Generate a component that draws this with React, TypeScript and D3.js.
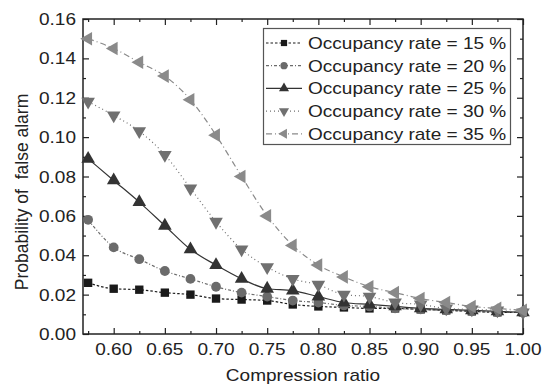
import React, { useEffect, useRef } from 'react';
import * as d3 from 'd3';

const ratios = [0.575, 0.6, 0.625, 0.65, 0.675, 0.7, 0.725, 0.75, 0.775, 0.8, 0.825, 0.85, 0.875, 0.9, 0.925, 0.95, 0.975, 1.0];
const occ15 = [0.026, 0.023, 0.0225, 0.021, 0.020, 0.018, 0.0175, 0.017, 0.015, 0.014, 0.0135, 0.013, 0.013, 0.0125, 0.012, 0.0115, 0.011, 0.011];
const occ20 = [0.058, 0.044, 0.038, 0.032, 0.028, 0.024, 0.021, 0.019, 0.017, 0.016, 0.0145, 0.014, 0.013, 0.0125, 0.012, 0.0115, 0.011, 0.011];
const occ25 = [0.089, 0.078, 0.067, 0.055, 0.043, 0.035, 0.028, 0.023, 0.022, 0.019, 0.016, 0.015, 0.014, 0.013, 0.0125, 0.012, 0.0115, 0.011];
const occ30 = [0.118, 0.111, 0.103, 0.091, 0.074, 0.057, 0.043, 0.034, 0.028, 0.025, 0.020, 0.019, 0.016, 0.015, 0.013, 0.0125, 0.012, 0.011];
const occ35 = [0.150, 0.145, 0.138, 0.131, 0.119, 0.101, 0.080, 0.060, 0.045, 0.035, 0.029, 0.024, 0.021, 0.018, 0.016, 0.014, 0.013, 0.012];
const labels = ['Occupancy rate = 15 %', 'Occupancy rate = 20 %', 'Occupancy rate = 25 %', 'Occupancy rate = 30 %', 'Occupancy rate = 35 %'];
const xTicks = [0.6, 0.65, 0.7, 0.75, 0.8, 0.85, 0.9, 0.95, 1.0];
const yTicks = [0, 0.02, 0.04, 0.06, 0.08, 0.1, 0.12, 0.14, 0.16];

const styles = [
  { color: '#1a1a1a', line: '#1a1a1a', dash: '2.5,2', symbol: d3.symbolSquare, size: 70, rot: 0 },
  { color: '#6b6b6b', line: '#6b6b6b', dash: '3,2,1,2', symbol: d3.symbolCircle, size: 75, rot: 0 },
  { color: '#333333', line: '#333333', dash: null, symbol: d3.symbolTriangle, size: 80, rot: 0 },
  { color: '#707070', line: '#707070', dash: '1,3', symbol: d3.symbolTriangle, size: 80, rot: 180 },
  { color: '#8a8a8a', line: '#8a8a8a', dash: '6,3,1,3', symbol: d3.symbolTriangle, size: 80, rot: -90 },
];

function App() {
  const ref = useRef<SVGSVGElement>(null);

  useEffect(() => {
    const svg = d3.select(ref.current);
    svg.selectAll('*').remove();
    const font = 'Liberation Sans, Arial, sans-serif';
    const stretch = 1.12; // text in the figure is a bit wider than Arial
    const m = { left: 83, right: 523, top: 19, bottom: 334 };

    const x = d3.scaleLinear().domain([0.57, 1.0]).range([m.left, m.right]);
    const y = d3.scaleLinear().domain([0, 0.16]).range([m.bottom, m.top]);

    const xMinor = d3.range(0.575, 1.0, 0.05);
    const yMinor = d3.range(0.01, 0.16, 0.02);

    const axes = svg.append('g');
    const drawAxis = (axis: any, tx: string) => {
      const g = axes.append('g').attr('transform', tx).call(axis);
      g.select('.domain').remove();
      g.selectAll('line').attr('stroke', '#222').attr('stroke-width', 1.2);
      g.selectAll('text').remove();
      return g;
    };
    drawAxis(d3.axisBottom(x).tickValues(xTicks).tickSize(-6), `translate(0,${m.bottom})`);
    drawAxis(d3.axisBottom(x).tickValues(xMinor).tickSize(-3), `translate(0,${m.bottom})`);
    drawAxis(d3.axisTop(x).tickValues(xTicks).tickSize(-6), `translate(0,${m.top})`);
    drawAxis(d3.axisTop(x).tickValues(xMinor).tickSize(-3), `translate(0,${m.top})`);
    drawAxis(d3.axisLeft(y).tickValues(yTicks).tickSize(-6), `translate(${m.left},0)`);
    drawAxis(d3.axisLeft(y).tickValues(yMinor).tickSize(-3), `translate(${m.left},0)`);
    drawAxis(d3.axisRight(y).tickValues(yTicks).tickSize(-6), `translate(${m.right},0)`);
    drawAxis(d3.axisRight(y).tickValues(yMinor).tickSize(-3), `translate(${m.right},0)`);

    const fmt = d3.format('.2f');
    axes.append('g').selectAll('text')
      .data(xTicks)
      .join('text')
      .attr('transform', d => `translate(${x(d)},355) scale(${stretch},1)`)
      .attr('text-anchor', 'middle')
      .attr('font-family', font).attr('font-size', 17).attr('fill', '#222')
      .text(d => fmt(d));
    axes.append('g').selectAll('text')
      .data(yTicks)
      .join('text')
      .attr('transform', d => `translate(76,${y(d) + 6}) scale(${stretch},1)`)
      .attr('text-anchor', 'end')
      .attr('font-family', font).attr('font-size', 17).attr('fill', '#222')
      .text(d => fmt(d));

    axes.append('rect')
      .attr('x', m.left).attr('y', m.top)
      .attr('width', m.right - m.left).attr('height', m.bottom - m.top)
      .attr('fill', 'none').attr('stroke', '#222').attr('stroke-width', 1.5);

    const series = [occ15, occ20, occ25, occ30, occ35];
    const line = d3.line<number>()
      .x((d, i) => x(ratios[i]))
      .y(d => y(d))
      .curve(d3.curveMonotoneX);

    const plot = svg.append('g');
    series.forEach((vals, k) => {
      const s = styles[k];
      plot.append('path')
        .attr('d', line(vals))
        .attr('fill', 'none')
        .attr('stroke', s.line)
        .attr('stroke-width', 1.2)
        .attr('stroke-dasharray', s.dash);
    });
    series.forEach((vals, k) => {
      const s = styles[k];
      const sym = d3.symbol().type(s.symbol).size(s.size);
      plot.append('g').selectAll('path')
        .data(vals)
        .join('path')
        .attr('d', sym)
        .attr('transform', (d, i) => `translate(${x(ratios[i])},${y(d)}) rotate(${s.rot})`)
        .attr('fill', s.color);
    });

    // legend
    const lg = svg.append('g');
    lg.append('rect')
      .attr('x', 263.5).attr('y', 28.5).attr('width', 247).attr('height', 116)
      .attr('fill', 'white').attr('stroke', '#555').attr('stroke-width', 1.2);
    labels.forEach((lab, k) => {
      const s = styles[k];
      const yy = 43 + k * 22.7;
      lg.append('line')
        .attr('x1', 266).attr('x2', 302).attr('y1', yy).attr('y2', yy)
        .attr('stroke', s.line).attr('stroke-width', 1.2)
        .attr('stroke-dasharray', s.dash);
      lg.append('path')
        .attr('d', d3.symbol().type(s.symbol).size(s.size * 0.55)())
        .attr('transform', `translate(284,${yy}) rotate(${s.rot})`)
        .attr('fill', s.color);
      lg.append('text')
        .attr('transform', `translate(308,${yy + 6}) scale(${stretch},1)`)
        .attr('font-family', font).attr('font-size', 17).attr('fill', '#222')
        .text(lab);
    });

    svg.append('text')
      .attr('transform', `translate(${(m.left + m.right) / 2},381) scale(${stretch},1)`)
      .attr('text-anchor', 'middle')
      .attr('font-family', font).attr('font-size', 17).attr('fill', '#222')
      .text('Compression ratio');

    svg.append('text')
      .attr('transform', `translate(22,192) rotate(-90)`)
      .attr('text-anchor', 'middle').attr('dy', '0.35em')
      .attr('font-family', font).attr('font-size', 17.5).attr('fill', '#222')
      .style('white-space', 'pre')
      .text('Probability of  false alarm');
  }, []);

  return (
    <svg ref={ref} width={545} height={389} style={{ position: 'absolute', left: 0, top: 0, background: 'white' }} />
  );
}

export default App;
